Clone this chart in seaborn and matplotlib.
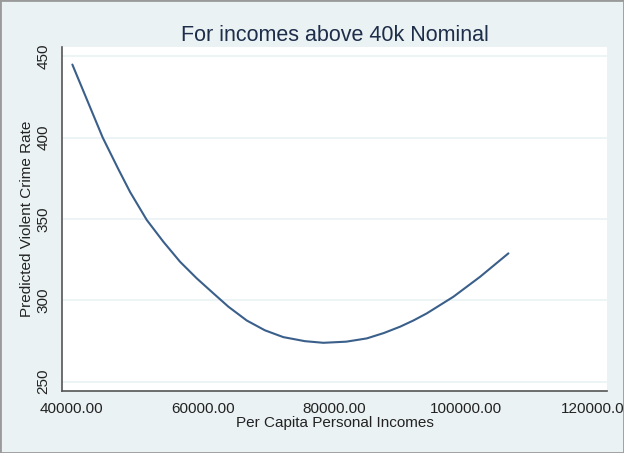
import numpy as np
import pandas as pd
import matplotlib
matplotlib.use("Agg")
import matplotlib.pyplot as plt
import seaborn as sns

# values
income = [40100, 42300, 44730, 47110, 48890, 51430, 53960, 56500, 59040,
          61570, 63850, 66650, 69400, 72200, 75500, 78310, 81800, 84910,
          87500, 89980, 92000, 94050, 98090, 102160, 106470]
crime = [445, 423.6, 400, 380.6, 366.6, 349.4, 336, 323.7, 313.5,
         304.3, 296.1, 287.6, 281.6, 277.4, 274.9, 273.9, 274.6, 276.6,
         279.9, 283.8, 287.6, 292.0, 302.2, 314.5, 328.9]
x_ticks = [40000, 60000, 80000, 100000, 120000]
y_ticks = [250, 300, 350, 400, 450]

df = pd.DataFrame({"income": income, "crime": crime})

sns.set_style("white")
plt.rcParams["font.family"] = ["Liberation Sans", "DejaVu Sans"]

bg = "#eaf2f3"
fig = plt.figure(figsize=(6.24, 4.53), dpi=100, facecolor=bg)
ax = fig.add_axes([0.099, 0.137, 0.874, 0.760])
ax.set_facecolor("white")

for y in y_ticks:
    ax.axhline(y, color=bg, lw=1.2, zorder=0)

sns.lineplot(data=df, x="income", y="crime", color="#3a5f8a", lw=1.5, ax=ax)

ax.set_xlim(38490, 121500)
ax.set_ylim(244.3, 456)
ax.set_xticks(x_ticks)
ax.set_xticklabels([f"{v:.2f}" for v in x_ticks])
ax.set_yticks(y_ticks)
ax.set_yticklabels([str(v) for v in y_ticks], rotation=90, va="center")

for s in ["top", "right"]:
    ax.spines[s].set_visible(False)
for s in ["left", "bottom"]:
    ax.spines[s].set_color("#555555")
    ax.spines[s].set_linewidth(1.2)

ax.tick_params(axis="both", direction="out", length=5, width=1, color="#555555",
               labelsize=11, labelcolor="#222222", pad=3)
ax.set_xlabel("Per Capita Personal Incomes", fontsize=11, color="#222222", labelpad=0)
ax.set_ylabel("Predicted Violent Crime Rate", fontsize=11, color="#222222", labelpad=2)
ax.set_title("For incomes above 40k Nominal", fontsize=15.5, color="#1e2e4a", pad=4)

fig.patches.append(plt.Rectangle((0, 0), 1, 1, transform=fig.transFigure,
                                 fill=False, edgecolor="#9a9a9a", lw=2))

fig.savefig("out.png", dpi=100, facecolor=bg)
